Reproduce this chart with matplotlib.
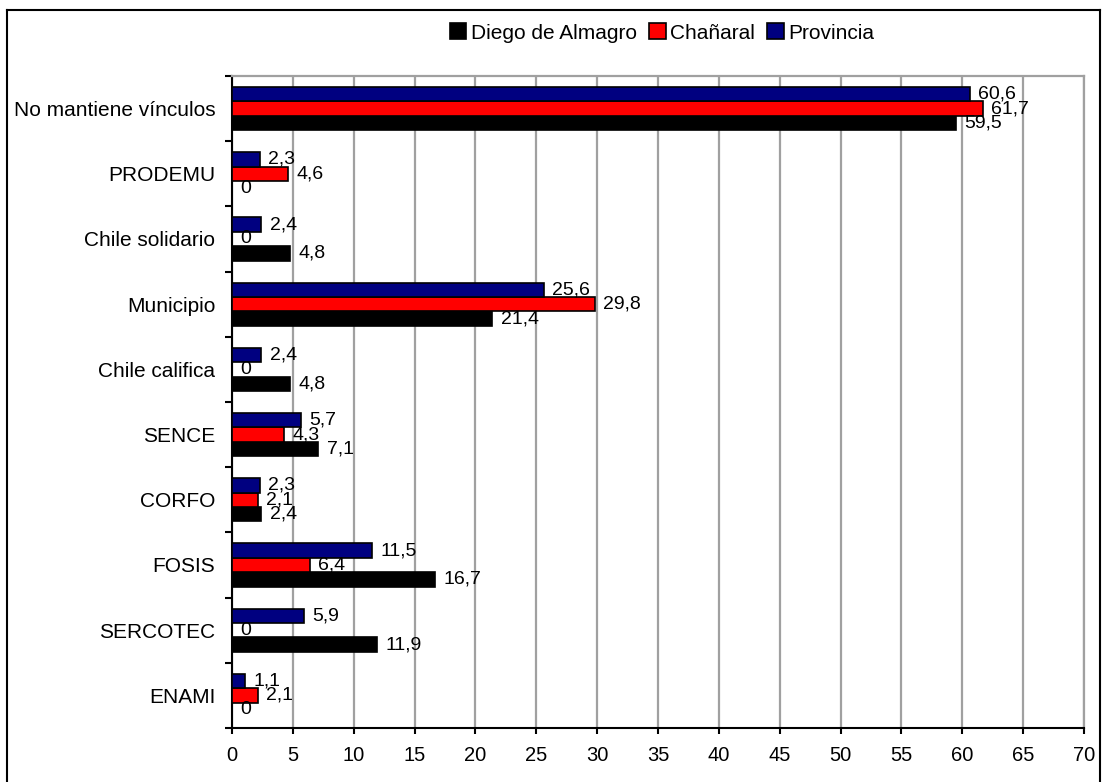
"""Vínculos con instituciones: Diego de Almagro, Chañaral y Provincia."""
import matplotlib

matplotlib.use("Agg")
import matplotlib.pyplot as plt
from matplotlib.lines import Line2D
from matplotlib.patches import Patch
import numpy as np

categories = [
    "No mantiene vínculos",
    "PRODEMU",
    "Chile solidario",
    "Municipio",
    "Chile califica",
    "SENCE",
    "CORFO",
    "FOSIS",
    "SERCOTEC",
    "ENAMI",
]
diego = [59.5, 0, 4.8, 21.4, 4.8, 7.1, 2.4, 16.7, 11.9, 0]
chanaral = [61.7, 4.6, 0, 29.8, 0, 4.3, 2.1, 6.4, 0, 2.1]
provincia = [60.6, 2.3, 2.4, 25.6, 2.4, 5.7, 2.3, 11.5, 5.9, 1.1]
series_names = ["Diego de Almagro", "Chañaral", "Provincia"]
x_ticks = list(range(0, 75, 5))

plt.rcParams["font.family"] = ["Liberation Sans", "DejaVu Sans"]

W, H = 1102, 782
fig = plt.figure(figsize=(W / 100, H / 100), dpi=100)
ax = fig.add_axes([232 / W, 1 - 728 / H, (1084 - 232) / W, (728 - 76) / H])

colors = ["#000000", "#ff0000", "#000080"]
h = 0.22
y = np.arange(len(categories))
offsets = [h, 0, -h]  # Diego bottom, Chañaral middle, Provincia top

for vals, name, col, off in zip([diego, chanaral, provincia], series_names, colors, offsets):
    bars = ax.barh(y + off, vals, height=h, color=col, edgecolor="black",
                   linewidth=1.2, zorder=3, label=name)
    ax.bar_label(bars, labels=[f"{v:g}".replace(".", ",") for v in vals],
                 padding=6, fontsize=14, color="black", zorder=4)

ax.set_xlim(0, 70)
ax.set_ylim(len(categories) - 0.5, -0.5)
ax.set_xticks(x_ticks)
ax.set_yticks(y, categories)
ax.set_yticks(np.arange(len(categories) + 1) - 0.5, minor=True)
ax.tick_params(axis="y", which="major", length=0, pad=12, labelsize=15)
ax.tick_params(axis="y", which="minor", length=5, width=1.5, direction="out")
ax.tick_params(axis="x", length=4, width=1.5, pad=9, labelsize=14.5)

ax.grid(axis="x", color="#a0a0a0", linewidth=1.6, zorder=0)
ax.grid(axis="y", visible=False)
ax.spines["left"].set_linewidth(1.5)
ax.spines["bottom"].set_linewidth(1.5)
ax.spines["top"].set_color("#a0a0a0")
ax.spines["right"].set_color("#a0a0a0")
ax.spines["top"].set_linewidth(1.6)
ax.spines["right"].set_linewidth(1.6)

handles = [Patch(facecolor=c, edgecolor="black", linewidth=1.2) for c in colors]
fig.legend(handles, series_names, loc="center", bbox_to_anchor=(662 / W, 1 - 33 / H),
           ncol=3, frameon=False, fontsize=15, handlelength=0.8, handleheight=0.8,
           handletextpad=0.2, columnspacing=0.6)

# outer chart border
left, top, right = 7 / W, 1 - 10 / H, 1100 / W
for xs, ys in [([left, left], [0, top]), ([left, right], [top, top]), ([right, right], [top, 0])]:
    fig.add_artist(Line2D(xs, ys, transform=fig.transFigure, color="black", linewidth=1.5))

fig.savefig("out.png", dpi=100, facecolor="white")
